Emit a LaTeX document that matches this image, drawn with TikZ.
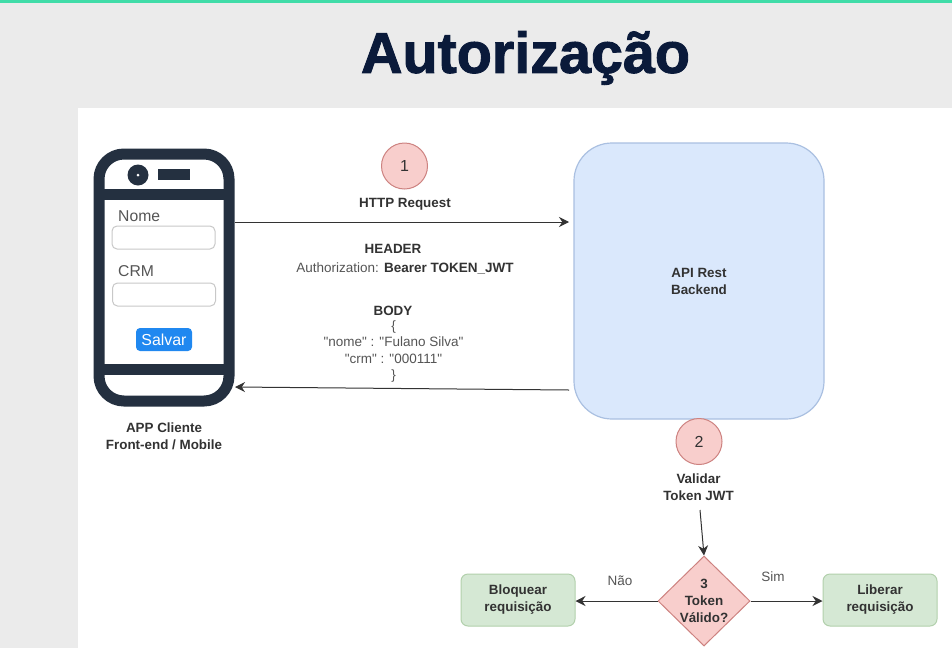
\documentclass[tikz,border=0pt]{standalone}
\usepackage{fontspec}
\setmainfont{Liberation Sans}
\newfontfamily\titlefont[BoldFeatures={FakeBold=1.6}]{Liberation Sans}
\newfontfamily\jsonfont{Liberation Sans}
\usetikzlibrary{arrows.meta,shapes.geometric}

\definecolor{slidegray}{RGB}{235,235,235}
\definecolor{stripgreen}{RGB}{64,220,168}
\definecolor{titlenavy}{RGB}{10,26,58}
\definecolor{phonedark}{RGB}{36,48,64}
\definecolor{labelgray}{RGB}{50,50,50}
\definecolor{plaingray}{RGB}{85,85,85}
\definecolor{stepred}{RGB}{248,206,204}
\definecolor{stepedge}{RGB}{205,130,128}
\definecolor{apiblue}{RGB}{218,232,252}
\definecolor{apiedge}{RGB}{170,192,225}
\definecolor{boxgreen}{RGB}{213,232,212}
\definecolor{boxedge}{RGB}{178,208,172}
\definecolor{fieldedge}{RGB}{200,200,200}
\definecolor{savebutton}{RGB}{32,136,240}

\tikzset{
  boldlabel/.style={font=\fontsize{13.4}{17}\selectfont\bfseries, text=labelgray, align=center, inner sep=0},
  plainlabel/.style={font=\fontsize{13.5}{16.5}\selectfont, text=plaingray, align=center, inner sep=0},
  formlabel/.style={font=\fontsize{15.7}{18}\selectfont, text=plaingray, inner sep=0},
  stepcircle/.style={circle, draw=stepedge, fill=stepred, line width=1pt, minimum size=46pt, inner sep=0,
    font=\fontsize{16}{18}\selectfont, text=labelgray},
  resultbox/.style={rectangle, rounded corners=7pt, draw=boxedge, fill=boxgreen, line width=1pt,
    minimum width=114pt, minimum height=52pt, inner sep=0, align=center,
    font=\fontsize{13.4}{17}\selectfont\bfseries, text=labelgray},
  formfield/.style={rectangle, rounded corners=5pt, draw=fieldedge, fill=white, line width=1pt,
    minimum width=103pt, minimum height=23pt, inner sep=0},
  flow/.style={-{Stealth[length=10pt,width=10pt]}, draw=black!80, line width=1pt},
}

\begin{document}
\begin{tikzpicture}[x=1pt,y=-1pt]

  % Slide background
  \useasboundingbox (0,0) rectangle (952,648);
  \fill[slidegray] (0,0) rectangle (952,648);
  \fill[stripgreen] (0,0) rectangle (952,3);
  \fill[white] (78,108) rectangle (952,648);

  \node[font=\titlefont\fontsize{57.5}{60}\selectfont\bfseries, text=titlenavy, inner sep=0] (title) at (525.5,58) {Autorização};

  % Phone body
  \node[rectangle, rounded corners=25pt, draw=phonedark, fill=white, line width=11pt,
    minimum width=130pt, minimum height=247pt, inner sep=0] (phone) at (164,277.5) {};
  \draw[phonedark, line width=11pt] (99,194) -- (229,194);
  \draw[phonedark, line width=11pt] (99,369.5) -- (229,369.5);
  \fill[phonedark] (138,175) circle (10.5);
  \fill[white] (138,175) circle (1.5);
  \fill[phonedark] (158,169) rectangle (190,180);

  % Form inside the phone
  \node[formlabel, anchor=west] (nomelabel) at (118,216) {Nome};
  \node[formfield] (nomefield) at (163.5,237.5) {};
  \node[formlabel, anchor=west] (crmlabel) at (118,271) {CRM};
  \node[formfield] (crmfield) at (164,294.5) {};
  \node[rectangle, rounded corners=4pt, fill=savebutton, minimum width=56pt, minimum height=23pt, inner sep=0,
    font=\fontsize{15.9}{18}\selectfont, text=white] (salvar) at (164,339.5) {Salvar};
  \node[boldlabel] (phonelabel) at (164,436) {APP Cliente\\Front-end / Mobile};

  % Backend box
  \node[rectangle, rounded corners=38pt, draw=apiedge, fill=apiblue, line width=1.2pt,
    minimum width=250pt, minimum height=276pt, inner sep=0, align=center,
    font=\fontsize{13.4}{17}\selectfont\bfseries, text=labelgray] (api) at (699,281) {\raisebox{-1pt}{API Rest}\\\raisebox{-1pt}{Backend}};

  % Request in the middle
  \node[stepcircle] (stepone) at (404.5,166) {1};
  \node[boldlabel] (httplabel) at (405,204) {HTTP Request};
  \node[boldlabel] (headerlabel) at (393,248.5) {HEADER};
  \node[plainlabel] (authlabel) at (405,268) {Authorization: \textcolor{labelgray}{\bfseries Bearer TOKEN\_JWT}};
  \node[boldlabel] (bodylabel) at (393,311) {BODY};
  \node[plainlabel, font=\jsonfont\fontsize{13.5}{16.5}\selectfont] (bodytext) at (393.5,351.5)
    {\{\\"nome" : "Fulano Silva"\\"crm" : "000111"\\\}};

  \coordinate (apiin) at (569,222);
  \coordinate (apiout) at (569,390);
  \coordinate (phoneback) at (235,387);
  \draw[flow] (phone.east |- apiin) -- (apiin);
  \draw[flow] (apiout) -- (phoneback);

  % Token check
  \node[stepcircle] (steptwo) at (699,441.5) {2};
  \node[boldlabel] (validlabel) at (698.5,487) {Validar\\Token JWT};
  \node[diamond, draw=stepedge, fill=stepred, line width=1pt, minimum width=92pt, minimum height=90pt,
    inner sep=0, aspect=1] (check) at (704,601) {};
  \node[boldlabel] (checklabel) at (704,600.5) {3\\Token\\Válido?};
  \node[resultbox] (block) at (518,600) {Bloquear\\requisição};
  \node[resultbox] (allow) at (880,600) {Liberar\\requisição};
  \node[plainlabel] (naolabel) at (620,581) {Não};
  \node[plainlabel] (simlabel) at (773,577) {Sim};

  \coordinate (validend) at (700,510);
  \draw[flow] (validend) -- (check.north);
  \draw[flow] (check.west) -- (block.east |- check.west);
  \draw[flow] (check.east) -- (allow.west |- check.east);
\end{tikzpicture}
\end{document}
